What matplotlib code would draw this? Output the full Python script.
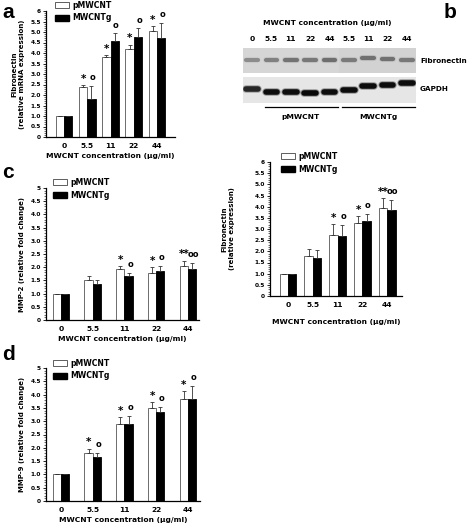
import matplotlib

matplotlib.use("Agg")
import matplotlib.pyplot as plt
import numpy as np
from matplotlib.patches import Patch
from matplotlib.ticker import MultipleLocator, FixedLocator

plt.rcParams["font.family"] = ["DejaVu Sans"]
plt.rcParams["font.weight"] = "bold"

conc = ["0", "5.5", "11", "22", "44"]

# panel a: fibronectin mRNA
a_p = [1.0, 2.4, 3.8, 4.2, 5.05]
a_p_err = [0.0, 0.07, 0.1, 0.2, 0.22]
a_g = [1.0, 1.8, 4.55, 4.75, 4.72]
a_g_err = [0.0, 0.65, 0.38, 0.42, 0.7]
a_p_mark = ["", "*", "*", "*", "*"]
a_g_mark = ["", "o", "o", "o", "o"]

# panel b: fibronectin protein
b_p = [1.0, 1.78, 2.73, 3.27, 3.93]
b_p_err = [0.0, 0.33, 0.48, 0.3, 0.45]
b_g = [1.0, 1.72, 2.68, 3.38, 3.87]
b_g_err = [0.0, 0.32, 0.48, 0.3, 0.43]
b_p_mark = ["", "", "*", "*", "**"]
b_g_mark = ["", "", "o", "o", "oo"]

# panel c: MMP-2
c_p = [1.0, 1.53, 1.92, 1.78, 2.05]
c_p_err = [0.0, 0.15, 0.12, 0.22, 0.2]
c_g = [0.99, 1.37, 1.65, 1.86, 1.95]
c_g_err = [0.0, 0.15, 0.12, 0.2, 0.2]
c_p_mark = ["", "", "*", "*", "**"]
c_g_mark = ["", "", "o", "o", "oo"]

# panel d: MMP-9
d_p = [1.0, 1.82, 2.88, 3.5, 3.85]
d_p_err = [0.0, 0.15, 0.28, 0.22, 0.27]
d_g = [1.0, 1.65, 2.88, 3.35, 3.85]
d_g_err = [0.0, 0.15, 0.3, 0.2, 0.47]
d_p_mark = ["", "*", "*", "*", "*"]
d_g_mark = ["", "o", "o", "o", "o"]

# western blot lanes
lanes = ["0", "5.5", "11", "22", "44", "5.5", "11", "22", "44"]
fn_band_dark = [0.45, 0.5, 0.55, 0.53, 0.57, 0.52, 0.56, 0.56, 0.53]
fn_band_shift = [0.0, 0.0, 0.02, 0.02, 0.02, 0.02, 0.08, 0.06, 0.02]
gapdh_band_dark = [0.85, 0.95, 0.95, 0.97, 0.95, 0.95, 0.95, 0.95, 0.95]
gapdh_band_shift = [0.04, -0.06, -0.07, -0.1, -0.08, 0.0, 0.14, 0.2, 0.26]

fig = plt.figure(figsize=(4.72, 5.28), dpi=100)
W, H = 472.0, 528.0
FS = 5.4  # general label size


def px_axes(x0, y0, x1, y1):
    return fig.add_axes([x0 / W, 1 - y1 / H, (x1 - x0) / W, (y1 - y0) / H])


def bar_panel(ax, pv, pe, gv, ge, pm, gm, ymax, width, xlim, ylabel, leg_xy):
    x = np.arange(len(conc))
    ax.bar(x - width / 2, pv, width, color="white", edgecolor="#555555", linewidth=0.6)
    ax.bar(x + width / 2, gv, width, color="black", edgecolor="black", linewidth=0.6)
    ax.errorbar(x - width / 2, pv, yerr=[np.zeros(len(pv)), pe], fmt="none",
                ecolor="#333333", elinewidth=0.6, capsize=1.6, capthick=0.6)
    ax.errorbar(x + width / 2, gv, yerr=[np.zeros(len(gv)), ge], fmt="none",
                ecolor="#333333", elinewidth=0.6, capsize=1.6, capthick=0.6)
    for i in range(len(conc)):
        if pm[i]:
            ax.text(x[i] - width / 2, pv[i] + pe[i] + 0.01 * ymax, pm[i], ha="center",
                    va="bottom", fontsize=7.5, fontweight="bold")
        if gm[i]:
            ax.text(x[i] + width / 2 + 0.05, gv[i] + ge[i] + 0.03 * ymax, gm[i], ha="center",
                    va="bottom", fontsize=6, fontweight="bold")
    ax.set_xlim(*xlim)
    ax.set_ylim(0, ymax)
    ax.set_xticks(x)
    ax.set_xticklabels(conc, fontsize=FS, fontweight="bold")
    ax.tick_params(axis="x", length=0, pad=4)
    yt = np.arange(0, ymax + 0.01, 0.5)
    ax.yaxis.set_major_locator(FixedLocator(yt))
    ax.set_yticklabels(["0" if v == 0 else ("%d" % v if v == ymax else "%.1f" % v) for v in yt],
                       fontsize=4.2, fontweight="bold")
    ax.yaxis.set_minor_locator(MultipleLocator(0.1))
    ax.tick_params(axis="y", which="major", length=2.5, width=0.6, pad=1.2)
    ax.tick_params(axis="y", which="minor", length=1.2, width=0.4)
    for s in ["top", "right"]:
        ax.spines[s].set_visible(False)
    for s in ["left", "bottom"]:
        ax.spines[s].set_linewidth(0.9)
    ax.set_xlabel("MWCNT concentration (\u00b5g/ml)", fontsize=FS, fontweight="bold", labelpad=3)
    ax.set_ylabel(ylabel, fontsize=5, fontweight="bold", labelpad=4, linespacing=1.3)
    ax.legend([Patch(facecolor="white", edgecolor="#444444", linewidth=0.6),
               Patch(facecolor="black", edgecolor="black")],
              ["pMWCNT", "MWCNTg"], loc="upper left",
              bbox_to_anchor=(leg_xy[0] / W, 1 - leg_xy[1] / H),
              bbox_transform=fig.transFigure, frameon=False,
              prop={"weight": "bold", "size": 5.6}, handlelength=1.8, handleheight=0.8,
              borderpad=0, borderaxespad=0, labelspacing=0.45, handletextpad=0.4)


ax_a = px_axes(46, 11, 175, 137)
bar_panel(ax_a, a_p, a_p_err, a_g, a_g_err, a_p_mark, a_g_mark, 6, 0.36, (-0.77, 4.77),
          "Fibronectin\n(relative mRNA expression)", (55, 1))

ax_b = px_axes(270, 162, 402, 296)
bar_panel(ax_b, b_p, b_p_err, b_g, b_g_err, b_p_mark, b_g_mark, 6, 0.34, (-0.73, 4.6),
          "Fibronectin\n(relative expression)", (281, 152))
ax_b.yaxis.labelpad = 14
ax_b.xaxis.labelpad = 8

ax_c = px_axes(46, 188, 199, 320)
bar_panel(ax_c, c_p, c_p_err, c_g, c_g_err, c_p_mark, c_g_mark, 5, 0.26, (-0.47, 4.35),
          "MMP-2 (relative fold change)", (53, 178))

ax_d = px_axes(46, 368, 200, 501)
bar_panel(ax_d, d_p, d_p_err, d_g, d_g_err, d_p_mark, d_g_mark, 5, 0.26, (-0.47, 4.38),
          "MMP-9 (relative fold change)", (53, 359))

# western blot
x_l = np.arange(len(lanes))
ax_fn = px_axes(243, 48, 416, 73)
ax_gd = px_axes(243, 77, 416, 103)
for ax, bg, dark, shift, lw in [(ax_fn, "#d6d6d6", fn_band_dark, fn_band_shift, 3.0),
                                (ax_gd, "#e6e6e6", gapdh_band_dark, gapdh_band_shift, 4.0)]:
    ax.set_facecolor(bg)
    ax.set_xlim(-0.47, 8.47)
    ax.set_ylim(-0.5, 0.5)
    for i in x_l:
        g = 1 - dark[i]
        ax.plot([i - 0.3, i + 0.3], [shift[i], shift[i]], color=str(min(1, g + 0.25)),
                lw=lw + 1.4, solid_capstyle="round", alpha=0.5)
        ax.plot([i - 0.3, i + 0.3], [shift[i], shift[i]], color=str(g),
                lw=lw, solid_capstyle="round")
    ax.set_xticks([])
    ax.set_yticks([])
    for s in ax.spines.values():
        s.set_visible(False)
ax_fn.axvspan(4.5, 8.47, color="#d2d2d2", zorder=0)

fig.text(327 / W, 1 - 23 / H, "MWCNT concentration (\u00b5g/ml)", ha="center", va="center",
         fontsize=FS, fontweight="bold")
for i, lab in enumerate(lanes):
    xf = (243 + (i + 0.47) * (173 / 8.94)) / W
    fig.text(xf, 1 - 39 / H, lab, ha="center", va="center", fontsize=FS, fontweight="bold")
fig.text(420 / W, 1 - 61 / H, "Fibronectin", ha="left", va="center", fontsize=5.2, fontweight="bold")
fig.text(420 / W, 1 - 89 / H, "GAPDH", ha="left", va="center", fontsize=5.2, fontweight="bold")
fig.add_artist(plt.Line2D([265 / W, 338 / W], [1 - 107 / H] * 2, color="black", lw=0.9))
fig.add_artist(plt.Line2D([342 / W, 415 / W], [1 - 107 / H] * 2, color="black", lw=0.9))
fig.text(301 / W, 1 - 117 / H, "pMWCNT", ha="center", va="center", fontsize=FS, fontweight="bold")
fig.text(378 / W, 1 - 117 / H, "MWCNTg", ha="center", va="center", fontsize=FS, fontweight="bold")

for lab, x0, y0 in [("a", 2, 13), ("b", 444, 13), ("c", 2, 173), ("d", 2, 354)]:
    fig.text(x0 / W, 1 - y0 / H, lab, ha="left", va="center", fontsize=15,
             fontweight="bold", family="Liberation Sans")

fig.savefig("out.png", dpi=100)
